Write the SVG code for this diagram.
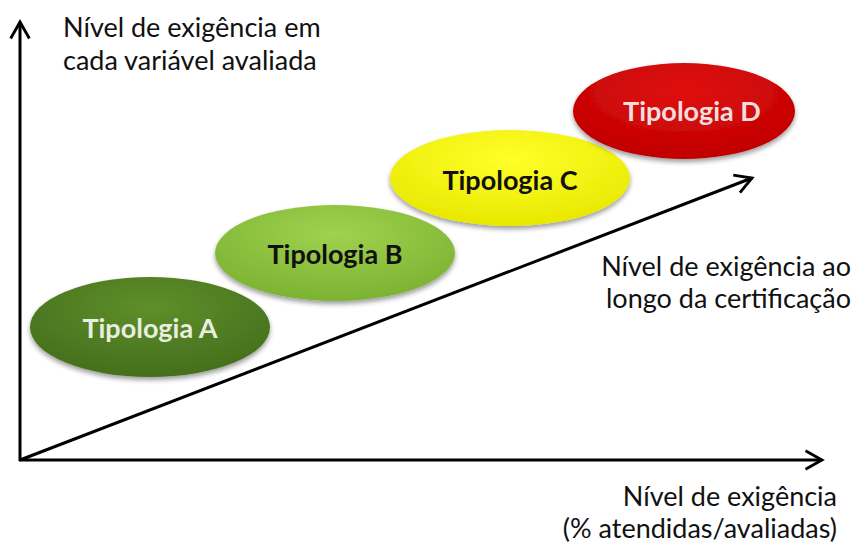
<svg xmlns="http://www.w3.org/2000/svg" width="861" height="543" viewBox="0 0 861 543">
<style>
.lbl{font-family:Lato,"Open Sans","Liberation Sans",sans-serif;font-size:27px;fill:#111}
.node{font-family:Lato,"Open Sans","Liberation Sans",sans-serif;font-size:27px;text-anchor:middle}
.ax{stroke:#000;stroke-width:3;fill:none}
</style>
<defs>
<marker id="ah" viewBox="0 0 20 20" refX="18" refY="10" markerWidth="22" markerHeight="22" markerUnits="userSpaceOnUse" orient="auto" overflow="visible">
<path d="M3,1.5 L18,10 L3,18.5" fill="none" stroke="#000" stroke-width="2.6"/>
</marker>
<radialGradient id="gA" cx="0.5" cy="0.3" r="0.7"><stop offset="0" stop-color="#5e8f2a"/><stop offset="1" stop-color="#456e1c"/></radialGradient>
<radialGradient id="gB" cx="0.5" cy="0.3" r="0.7"><stop offset="0" stop-color="#9fd24e"/><stop offset="1" stop-color="#7cb232"/></radialGradient>
<radialGradient id="gC" cx="0.5" cy="0.3" r="0.7"><stop offset="0" stop-color="#ffff2a"/><stop offset="1" stop-color="#e8e800"/></radialGradient>
<radialGradient id="gD" cx="0.5" cy="0.3" r="0.7"><stop offset="0" stop-color="#e01010"/><stop offset="1" stop-color="#c00000"/></radialGradient>
<filter id="sh" x="-20%" y="-20%" width="140%" height="150%"><feGaussianBlur in="SourceAlpha" stdDeviation="2.5"/><feOffset dy="3"/><feComponentTransfer><feFuncA type="linear" slope="0.4"/></feComponentTransfer><feMerge><feMergeNode/><feMergeNode in="SourceGraphic"/></feMerge></filter>
</defs>
<rect width="861" height="543" fill="#fff"/>
<g id="connectors">
<line class="ax" x1="20" y1="461" x2="20" y2="22" marker-end="url(#ah)"/>
<line class="ax" x1="19" y1="460" x2="822" y2="460" marker-end="url(#ah)"/>
<line class="ax" x1="20" y1="460" x2="752" y2="178" marker-end="url(#ah)"/>
</g>
<g id="nodeA">
<ellipse cx="150" cy="327" rx="120" ry="50" fill="url(#gA)" filter="url(#sh)"/>
<text class="node" x="150" y="338" fill="#e8eee0" font-weight="bold">Tipologia A</text>
</g>
<g id="nodeB">
<ellipse cx="335" cy="253" rx="120" ry="48" fill="url(#gB)" filter="url(#sh)"/>
<text class="node" x="335" y="264" fill="#111" font-weight="bold">Tipologia B</text>
</g>
<g id="nodeC">
<ellipse cx="510" cy="178" rx="120" ry="48" fill="url(#gC)" filter="url(#sh)"/>
<text class="node" x="510" y="190" fill="#111" font-weight="bold">Tipologia C</text>
</g>
<g id="nodeD">
<ellipse cx="684" cy="111" rx="111" ry="48" fill="url(#gD)" filter="url(#sh)"/>
<text class="node" x="692" y="121" fill="#f2dede" font-weight="bold">Tipologia D</text>
</g>
<g id="labels">
<text class="lbl" x="63" y="37">Nível de exigência em</text>
<text class="lbl" x="63" y="70">cada variável avaliada</text>
<text class="lbl" x="851" y="276" text-anchor="end">Nível de exigência ao</text>
<text class="lbl" x="851" y="308" text-anchor="end">longo da certificação</text>
<text class="lbl" x="837" y="506" text-anchor="end">Nível de exigência</text>
<text class="lbl" x="837" y="538" text-anchor="end">(% atendidas/avaliadas)</text>
</g>
</svg>
